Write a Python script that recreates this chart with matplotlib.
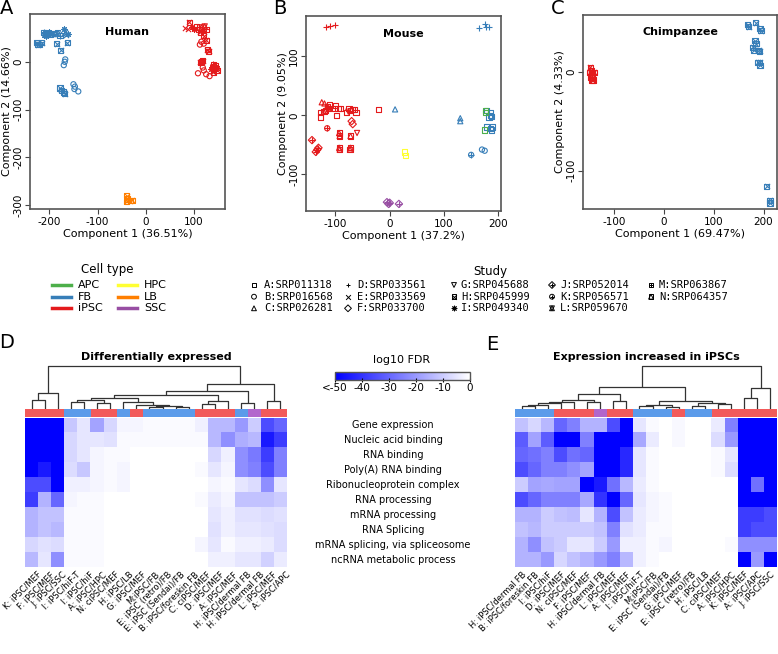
import numpy as np
import matplotlib
matplotlib.use('Agg')
import matplotlib.pyplot as plt
from matplotlib.colors import LinearSegmentedColormap
from matplotlib import transforms

plt.rcParams['axes.unicode_minus'] = False

# ---- PCA data ----
hum_x = [-212, -207, -203, -198, -206, -200, -195, -210, -226, -221, -216, -224,
         -188, -182, -172, -168, -165, -170, -162, -178, -185, -163, -176,
         -167, -168, -170, -178, -175, -170, -168, -150, -147, -148, -140,
         90, 82, 88, 95, 100, 105, 110, 115, 122, 125, 118,
         113, 120, 115, 112, 120, 125, 130, 127, 115, 118, 113,
         108, 120, 125, 132, 118, 140, 145, 138, 147, 142, 135, 140, 148,
         -40, -38, -32, -28, -40]
hum_y = [62, 58, 61, 58, 55, 63, 59, 57, 40, 37, 40, 36,
         58, 60, 58, 62, 56, 68, 58, 55, 38, 40, 24,
         5, 0, -7, -55, -60, -63, -67, -47, -52, -57, -62,
         83, 70, 68, 72, 68, 73, 67, 72, 74, 68, 65,
         62, 55, 42, 36, 38, 45, 22, 25, 0, 2, -1,
         -24, -18, -26, -30, -12, -5, -8, -12, -14, -18, -15, -22, -18,
         -280, -287, -291, -290, -292]
hum_cell = ['FB'] * 34 + ['iPSC'] * 35 + ['LB'] * 5
hum_study = ['M', 'M', 'M', 'M', 'I', 'I', 'I', 'I', 'H', 'H', 'H', 'H',
             'L', 'L', 'E', 'E', 'E', 'I', 'I', 'M', 'H', 'H', 'H',
             'B', 'B', 'B', 'H', 'H', 'H', 'H', 'B', 'B', 'B', 'B',
             'H', 'E', 'E', 'I', 'I', 'M', 'M', 'L', 'L', 'M', 'I',
             'H', 'H', 'B', 'B', 'B', 'H', 'H', 'H', 'H', 'H', 'H',
             'B', 'B', 'B', 'B', 'B', 'M', 'M', 'M', 'I', 'I', 'I', 'H', 'H',
             'H', 'H', 'H', 'H', 'H']

mou_x = [-118, -110, -100, -125, -120, -110, -100, -102, -90, -75, -72, -68, -65,
         -62, -80, -98, -128, -127, -20, -95, -115, -118, -112, -121, -76, -60,
         -70, -68, -115, -93, -92, -72, -73, -93, -92, -72, -143, -133, -136, -131,
         165, 175, 178, 183, 10, 130, 130, 178, 185, 188, 183, 190, 188, 185, 178,
         186, 150, 170, 175,
         177, 175, 176, 28, 29, -5, -2, 0, 17]
mou_y = [150, 151, 153, 22, 20, 18, 17, 12, 12, 12, 8, 10, 10,
         5, 5, 0, 5, -3, 10, 12, 15, 8, 12, 6, 6, -30,
         -10, -15, -22, -30, -35, -35, -58, -55, -58, -55, -42, -58, -62, -55,
         147, 155, 150, 150, 10, -5, -10, 8, 5, -2, -3, -20, -25, -22, -20,
         0, -67, -58, -60,
         5, -25, 8, -62, -68, -147, -150, -148, -150]
mou_cell = ['iPSC'] * 40 + ['FB'] * 19 + ['APC'] * 3 + ['HPC'] * 2 + ['SSC'] * 4
mou_study = ['D', 'D', 'D', 'C', 'C', 'A', 'A', 'A', 'A', 'A', 'A', 'A', 'A',
             'A', 'A', 'A', 'A', 'A', 'A', 'A', 'N', 'N', 'N', 'N', 'G', 'G',
             'F', 'F', 'K', 'N', 'N', 'N', 'N', 'N', 'N', 'N', 'J', 'J', 'J', 'J',
             'D', 'D', 'D', 'D', 'C', 'C', 'C', 'A', 'A', 'A', 'A', 'A', 'A', 'A', 'A',
             'A', 'K', 'B', 'B',
             'A', 'A', 'A', 'A', 'A', 'J', 'J', 'J', 'J']

chi_x = [-147, -145, -143, -146, -142, -145, -140, -148, -144,
         168, 170, 184, 193, 195, 183, 185, 178, 180, 190, 192, 188, 192, 193, 206, 213, 213]
chi_y = [5, 2, -2, -5, -8, -3, 0, 0, -8,
         48, 46, 50, 44, 42, 32, 29, 25, 22, 22, 21, 10, 10, 7, -116, -130, -133]
chi_cell = ['iPSC'] * 9 + ['FB'] * 17
chi_study = ['H'] * 26

cell_types = ['APC', 'FB', 'iPSC', 'HPC', 'LB', 'SSC']
cell_colors = ['#4DAF4A', '#377EB8', '#E41A1C', '#FFFF33', '#FF7F00', '#984EA3']
studies = ['A', 'B', 'C', 'D', 'E', 'F', 'G', 'H', 'I', 'J', 'K', 'L', 'M', 'N']
study_ids = ['SRP011318', 'SRP016568', 'SRP026281', 'SRP033561', 'SRP033569',
             'SRP033700', 'SRP045688', 'SRP045999', 'SRP049340', 'SRP052014',
             'SRP056571', 'SRP059670', 'SRP063867', 'SRP064357']

# ---- heatmap data ----
go_terms = ['Gene expression', 'Nucleic acid binding', 'RNA binding',
            'Poly(A) RNA binding', 'Ribonucleoprotein complex', 'RNA processing',
            'mRNA processing', 'RNA Splicing', 'mRNA splicing, via spliceosome',
            'ncRNA metabolic process']

de_labels = ['K: iPSC/MEF', 'F: iPSC/MEF', 'J: iPSC/SSC', 'I: iPSC/hiF-T', 'I: iPSC/hiF',
             'A: iPSC/HPC', 'N: ciPSC/MEF', 'H: iPSC/LB', 'G: iPSC/MEF', 'M:iPSC/FB',
             'E: iPSC (retro)/FB', 'E: iPSC (Sendai)/FB', 'B: iPSC/foreskin FB',
             'C: ciPSC/MEF', 'D: iPSC/MEF', 'A: iPSC/MEF', 'H: iPSC/dermal FB',
             'H: iPSC/dermal FB', 'L: iPSC/MEF', 'A: iPSC/APC']
de_species = ['mouse', 'mouse', 'mouse', 'human', 'human', 'mouse', 'mouse', 'human',
              'mouse', 'human', 'human', 'human', 'human', 'mouse', 'mouse', 'mouse',
              'human', 'chimp', 'mouse', 'mouse']
de_fdr = [
    [-50, -50, -50, -11, -5, -18, -8, -2, -2, -1, -1, -1, -1, -3, -14, -14, -20, -10, -35, -30],
    [-50, -50, -50, -8, -5, -5, -6, -1, -1, -1, -1, -1, -1, -1, -14, -22, -16, -14, -45, -38],
    [-50, -50, -50, -8, -5, -2, -1, -1, 0, 0, 0, 0, 0, 0, -8, -3, -22, -26, -38, -25],
    [-50, -45, -50, -7, -11, -2, -1, -2, 0, 0, 0, 0, 0, -1, -5, -2, -22, -25, -35, -25],
    [-35, -35, -50, -3, -3, -2, -1, -2, 0, 0, 0, 0, 0, 0, -2, -1, -5, -7, -22, -5],
    [-38, -15, -30, -2, -1, -1, 0, 0, 0, 0, 0, 0, 0, -1, -4, -2, -12, -12, -12, -10],
    [-15, -12, -12, -1, -1, -1, 0, 0, 0, 0, 0, 0, 0, 0, -5, -3, -6, -6, -7, -6],
    [-15, -12, -14, -1, -1, -1, 0, 0, 0, 0, 0, 0, 0, 0, -6, -3, -5, -5, -6, -7],
    [-8, -6, -7, -1, -1, -1, 0, 0, 0, 0, 0, 0, 0, -2, -5, -1, -3, -3, -4, -7],
    [-14, -5, -22, -1, -1, -1, 0, 0, 0, 0, 0, 0, 0, 0, -3, -3, -5, -5, -9, -4],
]
# merges: (left, right, height); ids >= 20 refer to earlier merges
de_tree = [(0, 1, 8), (20, 2, 15), (3, 4, 6), (5, 6, 5), (22, 23, 8), (9, 10, 1),
           (11, 12, 1.5), (25, 26, 2), (8, 27, 3), (7, 28, 6), (24, 29, 10),
           (13, 14, 4), (31, 15, 7), (30, 32, 13), (16, 17, 5), (33, 34, 17),
           (18, 19, 7), (35, 36, 24), (21, 37, 42)]

up_labels = ['H: iPSC/dermal FB', 'B: iPSC/foreskin FB', 'I: iPSC/hiF', 'D: iPSC/MEF',
             'N: ciPSC/MEF', 'F: iPSC/MEF', 'H: iPSC/dermal FB', 'L: iPSC/MEF',
             'A: iPSC/MEF', 'I: iPSC/hiF-T', 'M:iPSC/FB', 'E: iPSC (Sendai)/FB',
             'G: iPSC/MEF', 'E: iPSC (retro)/FB', 'H: iPSC/LB', 'C: ciPSC/MEF',
             'A: iPSC/HPC', 'K: iPSC/MEF', 'A: iPSC/APC', 'J: iPSC/SSC']
up_species = ['human', 'human', 'human', 'mouse', 'mouse', 'mouse', 'chimp', 'mouse',
              'mouse', 'human', 'human', 'human', 'mouse', 'human', 'human', 'mouse',
              'mouse', 'mouse', 'mouse', 'mouse']
up_fdr = [
    [-12, -8, -14, -30, -25, -15, -15, -35, -50, -5, -1, 0, -1.5, 0, 0, -4, -25, -50, -50, -50],
    [-32, -18, -32, -50, -50, -25, -50, -50, -50, -17, -4, 0, -1.5, 0, 0, -7, -20, -50, -50, -50],
    [-30, -28, -25, -35, -28, -30, -50, -50, -42, -5, -1, 0, 0, 0, 0, -1, -5, -50, -50, -50],
    [-35, -30, -25, -25, -22, -18, -50, -50, -42, -5, -1, 0, 0, 0, 0, -1, -7, -50, -50, -50],
    [-10, -18, -17, -18, -18, -50, -45, -28, -14, -4, -1, 0, 0, 0, 0, 0, 0, -50, -28, -50],
    [-35, -30, -25, -25, -25, -17, -40, -50, -30, -5, -2, -1, 0, 0, 0, 0, 0, -50, -50, -50],
    [-15, -15, -10, -12, -13, -5, -15, -35, -12, -4, -2, -1, 0, 0, 0, 0, 0, -38, -38, -35],
    [-12, -14, -10, -10, -10, -10, -12, -25, -6, -4, -1, -1, 0, 0, 0, 0, 0, -38, -35, -35],
    [-15, -22, -12, -10, -5, -5, -10, -20, -3, -3, -1, -2, 0, 0, 0, 0, -1, -22, -22, -22],
    [-15, -15, -20, -8, -12, -15, -20, -25, -14, -3, -1, 0, 0, 0, 0, 0, 0, -50, -20, -50],
]
up_tree = [(0, 1, 2), (20, 2, 3.5), (21, 3, 5), (22, 4, 6.5), (5, 6, 6), (23, 24, 8.7),
           (7, 8, 7.3), (25, 26, 14), (9, 10, 2), (11, 12, 1.5), (28, 29, 3),
           (13, 14, 2), (15, 16, 4), (31, 32, 5), (30, 33, 7), (27, 34, 21.3),
           (17, 18, 10), (36, 19, 20), (35, 37, 41.3)]

species_colors = {'human': '#5B9BEA', 'mouse': '#F25A5A', 'chimp': '#B266CC'}

MARKERS = {'A': ['s'], 'B': ['o'], 'C': ['^'], 'D': ['+'], 'E': ['x'], 'F': ['D'],
           'G': ['v'], 'H': ['s', 'x'], 'I': [(8, 2, 0)], 'J': ['D', '+'],
           'K': ['o', '+'], 'L': ['^', 'v'], 'M': ['s', '+'], 'N': ['s', '^']}
HOLLOW = ['s', 'o', '^', 'v', 'D']

W, H = 778, 654
fig = plt.figure(figsize=(W / 100, H / 100), dpi=100)


def px_axes(l, t, r, b):
    return fig.add_axes([l / W, 1 - b / H, (r - l) / W, (b - t) / H])


def draw_marker(ax, x, y, color, study, s=14, lw=0.8):
    for m in MARKERS[study]:
        if m in HOLLOW:
            ax.scatter(x, y, s=s, marker=m, facecolors='none', edgecolors=color, linewidths=lw)
        else:
            ax.scatter(x, y, s=s, marker=m, color=color, linewidths=lw)


def pca_panel(box, xs, ys, cells, studs, title, xlab, ylab, xlim, ylim, xt, yt):
    ax = px_axes(*box)
    for x, y, c, st in zip(xs, ys, cells, studs):
        draw_marker(ax, x, y, cell_colors[cell_types.index(c)], st)
    ax.set_xlim(*xlim)
    ax.set_ylim(*ylim)
    ax.set_xticks(xt)
    ax.set_yticks(yt)
    ax.tick_params(labelsize=7.5, length=3.5, width=0.8, color='#444')
    ax.tick_params(axis='x', pad=2)
    ax.tick_params(axis='y', labelrotation=90, pad=1.5)
    for lab in ax.get_yticklabels():
        lab.set_va('center')
    for sp in ax.spines.values():
        sp.set_color('#555555')
        sp.set_linewidth(1.2)
    ax.set_xlabel(xlab, fontsize=8, labelpad=2)
    ax.set_ylabel(ylab, fontsize=8, labelpad=1)
    ax.text(0.5, 0.91, title, transform=ax.transAxes, ha='center', va='center',
            fontsize=8, fontweight='bold')
    return ax


pca_panel((30, 14, 225, 209), hum_x, hum_y, hum_cell, hum_study, 'Human',
          'Component 1 (36.51%)', 'Component 2 (14.66%)', (-240, 164), (-308, 100),
          [-200, -100, 0, 100], [-300, -200, -100, 0])
pca_panel((306, 16, 501, 211), mou_x, mou_y, mou_cell, mou_study, 'Mouse',
          'Component 1 (37.2%)', 'Component 2 (9.05%)', (-154, 205), (-162, 168),
          [-100, 0, 100, 200], [-100, 0, 100])
pca_panel((583, 15, 777, 209), chi_x, chi_y, chi_cell, chi_study, 'Chimpanzee',
          'Component 1 (69.47%)', 'Component 2 (4.33%)', (-162, 227), (-139, 58),
          [-100, 0, 100, 200], [-100, 0])

# ---- heatmaps ----
fdr_cmap = LinearSegmentedColormap.from_list('fdr', ['#0000FF', '#FFFFFF'])


def tree_lines(ax, merges, n):
    xs = {i: float(i) for i in range(n)}
    hs = {i: 0.0 for i in range(n)}
    for k, (a, b, h) in enumerate(merges):
        ax.plot([xs[a], xs[a], xs[b], xs[b]], [hs[a], h, h, hs[b]],
                color='#333333', lw=0.9, solid_capstyle='butt')
        xs[n + k] = (xs[a] + xs[b]) / 2
        hs[n + k] = h
    ax.set_xlim(-0.5, n - 0.5)
    ax.set_ylim(0, max(hs.values()) * 1.02)
    ax.axis('off')


def heat_panel(left, right, labels, species, fdr, tree, title, shift):
    n = len(labels)
    axd = px_axes(left, 365, right, 408.5)
    tree_lines(axd, tree, n)
    axc = px_axes(left, 408.5, right, 416.5)
    axc.bar(np.arange(n), 1, width=1, color=[species_colors[s] for s in species])
    axc.set_xlim(-0.5, n - 0.5)
    axc.set_ylim(0, 1)
    axc.axis('off')
    axh = px_axes(left, 417.5, right, 567)
    vals = np.array(fdr)
    axh.imshow(vals, cmap=fdr_cmap, vmin=-50, vmax=0, aspect='auto',
               interpolation='nearest')
    off = transforms.ScaledTranslation(shift / 100, -3 / 100, fig.dpi_scale_trans)
    for i, lab in enumerate(labels):
        axh.text(i, vals.shape[0] - 0.5, lab, transform=axh.transData + off,
                 rotation=45, ha='right', va='top', rotation_mode='anchor',
                 fontsize=6.0, clip_on=False)
    axh.set_xticks([])
    axh.set_yticks([])
    for sp in axh.spines.values():
        sp.set_visible(False)
    fig.text((left + right) / 2 / W, 1 - 357 / H, title, ha='center', va='center',
             fontsize=8, fontweight='bold')
    return axh


axD = heat_panel(25, 287, de_labels, de_species, de_fdr, de_tree,
                 'Differentially expressed', 5)
heat_panel(515, 777, up_labels, up_species, up_fdr, up_tree,
           'Expression increased in iPSCs', 0)

# GO term labels between heatmaps
tr = transforms.blended_transform_factory(fig.transFigure, axD.transData)
for i, term in enumerate(go_terms):
    axD.text(393 / W, i, term, transform=tr, ha='center', va='center', fontsize=7,
             clip_on=False)

# colour bar
cax = px_axes(335, 372, 470, 379.5)
sm = plt.cm.ScalarMappable(cmap=fdr_cmap, norm=plt.Normalize(-50, 0))
cb = fig.colorbar(sm, cax=cax, orientation='horizontal')
cb.set_ticks([-50, -40, -30, -20, -10, 0])
cb.set_ticklabels(['<-50', '-40', '-30', '-20', '-10', '0'])
cb.ax.tick_params(labelsize=7.5, length=3, width=0.8, direction='inout', pad=1)
cb.outline.set_edgecolor('#555555')
cb.outline.set_linewidth(1)
fig.text(402 / W, 1 - 360 / H, 'log10 FDR', ha='center', va='center', fontsize=8)

# ---- legends and panel letters (pixel overlay) ----
ov = fig.add_axes([0, 0, 1, 1])
ov.set_xlim(0, W)
ov.set_ylim(H, 0)
ov.axis('off')

rows_y = [285, 296.7, 308.3]
ov.text(107, 270, 'Cell type', ha='center', va='center', fontsize=8.5)
for i, (ct, col) in enumerate(zip(cell_types, cell_colors)):
    lx = 52 if i < 3 else 118
    ov.plot([lx, lx + 19], [rows_y[i % 3]] * 2, color=col, lw=2.5)
    ov.text(lx + 26, rows_y[i % 3], ct, ha='left', va='center', fontsize=8)

ov.text(490, 271, 'Study', ha='center', va='center', fontsize=8.5)
mark_x = [254, 348, 454, 552, 651]
text_x = [264, 357, 461, 560, 659]
for i, (st, sid) in enumerate(zip(studies, study_ids)):
    col, row = i // 3, i % 3
    draw_marker(ov, mark_x[col], rows_y[row], 'black', st, s=12, lw=0.7)
    ov.text(text_x[col], rows_y[row], st + ':' + sid, ha='left', va='center',
            fontsize=7.5, family='DejaVu Sans Mono')

for letter, x, y in [('A', 7, 9), ('B', 280, 9), ('C', 558, 9), ('D', 7, 343), ('E', 492, 344)]:
    ov.text(x, y, letter, ha='center', va='center', fontsize=14)

fig.savefig('out.png', dpi=100)
